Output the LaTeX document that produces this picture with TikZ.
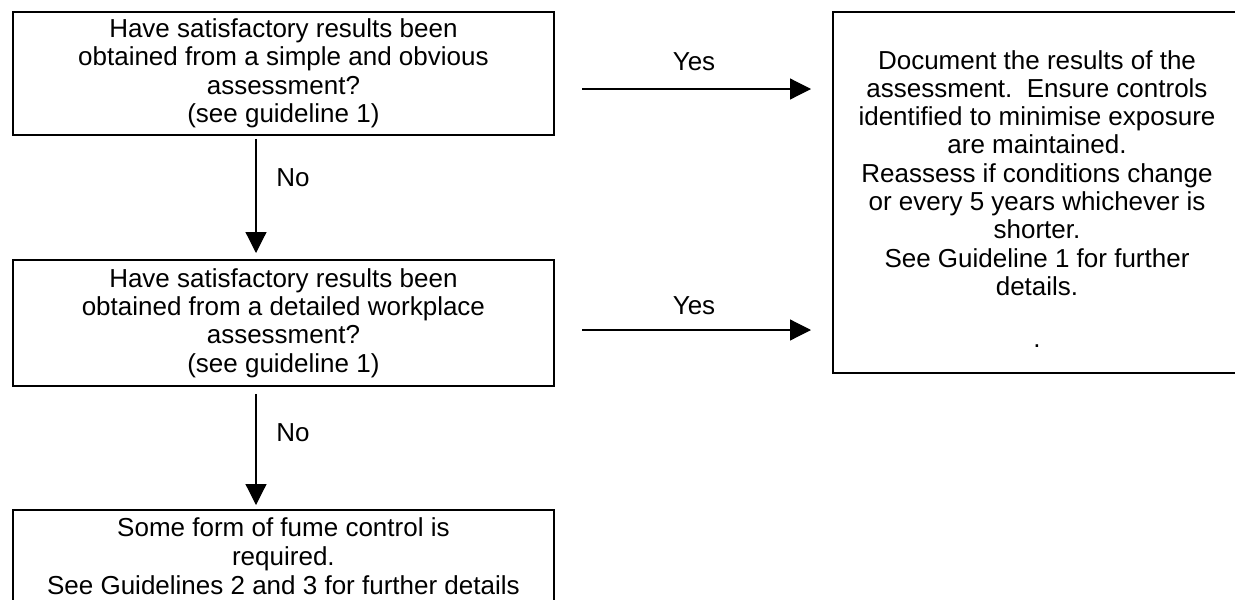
\documentclass[tikz,border=0pt]{standalone}
\usepackage{fontspec}
\setmainfont{Liberation Sans}
\usetikzlibrary{arrows.meta}
\begin{document}
\begin{tikzpicture}[x=1pt,y=-1pt,
  box/.style={draw, line width=1.8pt, inner sep=0pt, align=center,
    font=\fontsize{26}{28.3}\selectfont},
  txt/.style={inner sep=0pt, align=center, font=\fontsize{26}{28.3}\selectfont},
  lbl/.style={inner sep=0pt, font=\fontsize{26}{28}\selectfont},
  arr/.style={-{Triangle[length=21pt,width=21pt]}, line width=1.2pt}]
\useasboundingbox (0,0) rectangle (1235,600);
\clip (0,0) rectangle (1235,600);
% left column
\node[box, anchor=north west, minimum width=541pt, minimum height=123pt] (a) at (12,11)
  {Have satisfactory results been\\obtained from a simple and obvious\\assessment?\\(see guideline 1)};
\node[box, anchor=north west, minimum width=541pt, minimum height=126pt] (c) at (12,259)
  {Have satisfactory results been\\obtained from a detailed workplace\\assessment?\\(see guideline 1)};
\node[box, anchor=north west, minimum width=541pt, minimum height=92pt,
  font=\fontsize{26}{29}\selectfont] (d) at (12,509)
  {Some form of fume control is\\required.\\See Guidelines 2 and 3 for further details};
% right box
\node[box, anchor=north west, minimum width=410pt, minimum height=361pt] (b) at (832,11) {};
\node[txt, anchor=north] (btext) at (1037,50)
  {Document the results of the\\assessment.\ \ Ensure controls\\identified to minimise exposure\\are maintained.\\Reassess if conditions change\\or every 5 years whichever is\\shorter.\\See Guideline 1 for further\\details.\\[24pt].};
% connectors
\coordinate (v) at (256,0);
\coordinate (h1) at (582,89);
\coordinate (h2) at (582,330);
\draw[arr] (h1) -- ([xshift=-21pt]b.west |- h1);
\draw[arr] (h2) -- ([xshift=-21pt]b.west |- h2);
\draw[arr] ([yshift=-3pt]a.south -| v) -- ([yshift=6pt]c.north -| v);
\draw[arr] ([yshift=-7pt]c.south -| v) -- ([yshift=4pt]d.north -| v);
% labels
\node[lbl] (yes1) at (694,62) {Yes};
\node[lbl] (yes2) at (694,306) {Yes};
\node[lbl] (no1) at (293,178) {No};
\node[lbl] (no2) at (293,433) {No};
\end{tikzpicture}
\end{document}
